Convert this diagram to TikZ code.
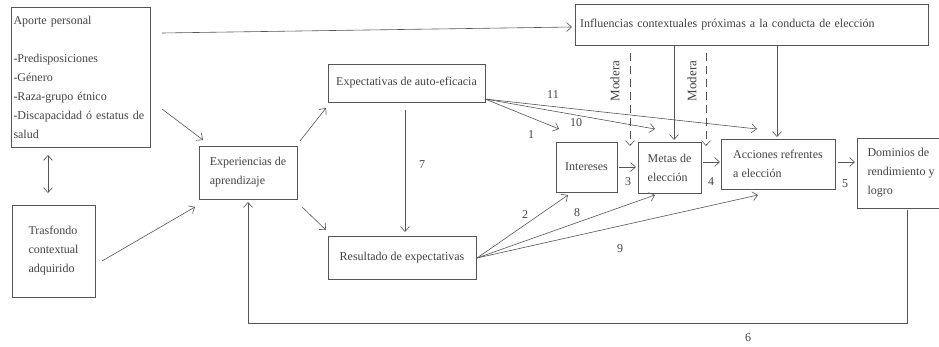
\documentclass[tikz,border=0pt]{standalone}
\usepackage{fontspec}
\setmainfont{Liberation Serif}
\usetikzlibrary{arrows.meta}
\definecolor{ink}{HTML}{555555}
\definecolor{txt}{HTML}{444444}
\begin{document}
\begin{tikzpicture}[x=1pt,y=-1pt,
  box/.style={draw=ink, line width=0.7pt, inner sep=0pt, text=txt, font=\fontsize{12}{19}\selectfont, align=left},
  arr/.style={draw=ink, line width=0.6pt, -{Straight Barb[length=5pt,width=9pt]}},
  darr/.style={arr, {Straight Barb[length=5pt,width=9pt]}-{Straight Barb[length=5pt,width=9pt]}},
  dasharr/.style={arr, dash pattern=on 8pt off 5pt},
  lab/.style={text=txt, font=\fontsize{12}{14}\selectfont, inner sep=0pt},
  modlab/.style={text=txt, font=\fontsize{13}{14}\selectfont, inner sep=0pt, rotate=90},
]
\useasboundingbox (0,0) rectangle (939,347);
\fill[white] (0,0) rectangle (939,347);

% boxes
\node[box, minimum width=139pt, minimum height=140pt, text width=134pt] (aporte) at (80.5,77)
  {Aporte personal\\[19pt]-Predisposiciones\\-Género\\-Raza-grupo étnico\\-Discapacidad ó estatus de\\salud};
\node[box, minimum width=83pt, minimum height=92pt] (tras) at (53.5,251) {Trasfondo\\contextual\\adquirido};
\node[box, minimum width=98pt, minimum height=53pt] (exp) at (248,172.5) {Experiencias de\\aprendizaje};
\node[box, minimum width=157pt, minimum height=38pt] (auto) at (406.5,83) {Expectativas de auto-eficacia};
\node[box, minimum width=148pt, minimum height=43pt] (res) at (402,257.5) {Resultado de expectativas};
\node[box, minimum width=61pt, minimum height=50pt] (int) at (586.5,167) {Intereses};
\node[box, minimum width=63pt, minimum height=51pt] (metas) at (669.5,167.5) {Metas de\\elección};
\node[box, minimum width=114pt, minimum height=50pt] (acc) at (778,164) {Acciones refrentes\\a elección};
\node[box, minimum width=88pt, minimum height=70pt] (dom) at (901,173) {Dominios de\\rendimiento y\\logro};
\node[box, minimum width=353pt, minimum height=41pt, text width=343pt] (inf) at (751.5,24.5) {Influencias contextuales próximas a la conducta de elección};

% free ends
\coordinate (a1) at (162,33);
\coordinate (a2) at (572,27);
\coordinate (p1) at (48,155);
\coordinate (p2) at (48,193);
\coordinate (ae1) at (162,109);
\coordinate (ae2) at (203,140);
\coordinate (t1) at (102,261);
\coordinate (t2) at (195,207);
\coordinate (e1) at (300,141);
\coordinate (e2) at (326,108);
\coordinate (e3) at (302,207);
\coordinate (e4) at (326,230);
\coordinate (v1) at (405,110);
\coordinate (v2) at (405,232);
\coordinate (s0) at (485,99);
\coordinate (s1) at (559,129);
\coordinate (s10) at (655,129);
\coordinate (s11) at (757,129);
\coordinate (r0) at (477,258);
\coordinate (r2) at (568,195);
\coordinate (r8) at (655,195);
\coordinate (r9) at (758,195);
\coordinate (h3a) at (619,167);
\coordinate (h3b) at (636,167);
\coordinate (h4a) at (703,162);
\coordinate (h4b) at (720,162);
\coordinate (h5a) at (838,162);
\coordinate (h5b) at (855,162);
\coordinate (c1) at (674,45);
\coordinate (c2) at (674,140);
\coordinate (c3) at (777,45);
\coordinate (c4) at (777,137);
\coordinate (m1a) at (630,53);
\coordinate (m1b) at (630,146);
\coordinate (m2a) at (706,53);
\coordinate (m2b) at (706,146);
\coordinate (f0) at (907,210);
\coordinate (f1) at (907,323);
\coordinate (f2) at (248,323);
\coordinate (f3) at (248,202);

% connectors
\draw[arr] (a1) -- (a2);
\draw[darr] (p1) -- (p2);
\draw[arr] (ae1) -- (ae2);
\draw[arr] (t1) -- (t2);
\draw[arr] (e1) -- (e2);
\draw[arr] (e3) -- (e4);
\draw[arr] (v1) -- (v2);
\draw[arr] (s0) -- (s1);
\draw[arr] (s0) -- (s10);
\draw[arr] (s0) -- (s11);
\draw[arr] (r0) -- (r2);
\draw[arr] (r0) -- (r8);
\draw[arr] (r0) -- (r9);
\draw[arr] (h3a) -- (h3b);
\draw[arr] (h4a) -- (h4b);
\draw[arr] (h5a) -- (h5b);
\draw[arr] (c1) -- (c2);
\draw[arr] (c3) -- (c4);
\draw[dasharr] (m1a) -- (m1b);
\draw[dasharr] (m2a) -- (m2b);
\draw[arr] (f0) -- (f1) -- (f2) -- (f3);

% labels
\node[lab] (l1) at (531,135) {1};
\node[lab] (l10) at (576,123) {10};
\node[lab] (l11) at (553,95) {11};
\node[lab] (l7) at (422,165) {7};
\node[lab] (l2) at (525,215) {2};
\node[lab] (l8) at (577,213) {8};
\node[lab] (l9) at (620,249) {9};
\node[lab] (l3) at (628,182) {3};
\node[lab] (l4) at (711,182) {4};
\node[lab] (l5) at (845,184) {5};
\node[lab] (l6) at (748,338) {6};
\node[modlab] (mod1) at (615,81) {Modera};
\node[modlab] (mod2) at (692,81) {Modera};
\end{tikzpicture}
\end{document}
